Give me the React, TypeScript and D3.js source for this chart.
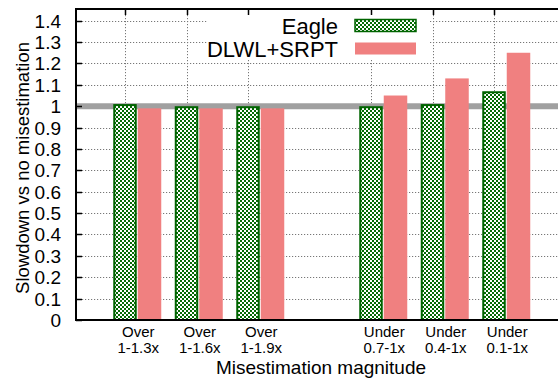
import React, { useEffect, useRef } from 'react';
import * as d3 from 'd3';

// chart data
const categories = [
  ['Over', '1-1.3x'],
  ['Over', '1-1.6x'],
  ['Over', '1-1.9x'],
  ['Under', '0.7-1x'],
  ['Under', '0.4-1x'],
  ['Under', '0.1-1x'],
];
const slots = [0, 1, 2, 4, 5, 6]; // empty slot between the two groups
const eagle = [1.01, 1.0, 1.0, 1.0, 1.01, 1.07];
const dlwl = [0.99, 0.99, 0.99, 1.05, 1.13, 1.25];
const yTicks = [0, 0.1, 0.2, 0.3, 0.4, 0.5, 0.6, 0.7, 0.8, 0.9, 1, 1.1, 1.2, 1.3, 1.4];

const App = () => {
  const ref = useRef<SVGSVGElement>(null);

  useEffect(() => {
    const svg = d3.select(ref.current);
    svg.selectAll('*').remove();

    const W = 558;
    const left = 76, top = 9, bottom = 320;
    const font = '"Liberation Sans", Arial, Helvetica, sans-serif';

    const y = d3.scaleLinear().domain([0, 1.45]).range([bottom, top + 1]);
    const x = d3.scaleLinear().domain([0, 6]).range([125, 494]);
    const barW = 23.5;
    const gap = 24.5;

    // checker pattern for Eagle bars
    const defs = svg.append('defs');
    const pat = defs.append('pattern')
      .attr('id', 'chk')
      .attr('width', 4).attr('height', 4)
      .attr('patternUnits', 'userSpaceOnUse');
    pat.append('rect').attr('width', 4).attr('height', 4).attr('fill', '#ffffff');
    pat.append('rect').attr('width', 2).attr('height', 2).attr('fill', '#046a04');
    pat.append('rect').attr('x', 2).attr('y', 2).attr('width', 2).attr('height', 2).attr('fill', '#046a04');

    // horizontal grid
    svg.append('g').selectAll('line')
      .data(yTicks.filter(d => d > 0))
      .enter().append('line')
      .attr('x1', left).attr('x2', W)
      .attr('y1', d => Math.round(y(d)) + 0.5).attr('y2', d => Math.round(y(d)) + 0.5)
      .attr('stroke', '#777').attr('stroke-width', 1)
      .attr('stroke-dasharray', '1.2,1.8');

    // vertical grid
    svg.append('g').selectAll('line')
      .data(slots)
      .enter().append('line')
      .attr('x1', d => Math.round(x(d)) + 0.5).attr('x2', d => Math.round(x(d)) + 0.5)
      .attr('y1', top).attr('y2', bottom)
      .attr('stroke', '#777').attr('stroke-width', 1)
      .attr('stroke-dasharray', '1.2,1.8');

    // reference line at 1
    svg.append('line')
      .attr('x1', left).attr('x2', W)
      .attr('y1', y(1)).attr('y2', y(1))
      .attr('stroke', '#a0a0a0').attr('stroke-width', 6);

    // legend background
    svg.append('rect')
      .attr('x', 208).attr('y', 11).attr('width', 222).attr('height', 48)
      .attr('fill', '#fff');

    // bars
    svg.append('g').selectAll('rect')
      .data(eagle)
      .enter().append('rect')
      .attr('x', (d, i) => x(slots[i]) - barW / 2 + 1)
      .attr('y', d => y(d) + 1)
      .attr('width', barW - 2)
      .attr('height', d => bottom - y(d) - 1)
      .attr('fill', 'url(#chk)')
      .attr('stroke', '#006400').attr('stroke-width', 2);

    svg.append('g').selectAll('rect')
      .data(dlwl)
      .enter().append('rect')
      .attr('x', (d, i) => x(slots[i]) + gap - barW / 2)
      .attr('y', d => y(d))
      .attr('width', barW)
      .attr('height', d => bottom - y(d))
      .attr('fill', '#f08080');

    // legend
    const lg = [
      { name: 'Eagle', yy: 25.5, fill: 'url(#chk)', stroke: '#006400' },
      { name: 'DLWL+SRPT', yy: 48.5, fill: '#f08080', stroke: 'none' },
    ];
    lg.forEach(l => {
      svg.append('text')
        .attr('x', 338).attr('y', l.yy + 8)
        .attr('text-anchor', 'end')
        .style('font-family', font).style('font-size', '22px')
        .text(l.name);
      svg.append('rect')
        .attr('x', 355).attr('y', l.yy - 6)
        .attr('width', 61).attr('height', 12)
        .attr('fill', l.fill)
        .attr('stroke', l.stroke).attr('stroke-width', l.stroke === 'none' ? 0 : 1.5);
    });

    // axes frame
    svg.append('line').attr('x1', left).attr('x2', W).attr('y1', top).attr('y2', top)
      .attr('stroke', '#000').attr('stroke-width', 2);
    svg.append('line').attr('x1', left).attr('x2', W).attr('y1', bottom).attr('y2', bottom)
      .attr('stroke', '#000').attr('stroke-width', 2);
    svg.append('line').attr('x1', left).attr('x2', left).attr('y1', top - 1).attr('y2', bottom + 1)
      .attr('stroke', '#000').attr('stroke-width', 2);

    // y ticks
    const yt = svg.append('g');
    yTicks.forEach(t => {
      yt.append('line')
        .attr('x1', left).attr('x2', left + 6)
        .attr('y1', Math.round(y(t)) + 0.5).attr('y2', Math.round(y(t)) + 0.5)
        .attr('stroke', '#000').attr('stroke-width', 1.5);
      yt.append('text')
        .attr('x', 61).attr('y', y(t) + 7)
        .attr('text-anchor', 'end')
        .style('font-family', font).style('font-size', '19px')
        .text(d3.format('~g')(t));
    });

    // top ticks at category positions
    slots.forEach(s => {
      svg.append('line')
        .attr('x1', Math.round(x(s)) + 0.5).attr('x2', Math.round(x(s)) + 0.5)
        .attr('y1', top).attr('y2', top + 6)
        .attr('stroke', '#000').attr('stroke-width', 1.5);
    });

    // x tick labels
    categories.forEach((c, i) => {
      const cx = x(slots[i]) + gap / 2 + 1;
      c.forEach((line, k) => {
        svg.append('text')
          .attr('x', cx).attr('y', 337 + k * 15.5)
          .attr('text-anchor', 'middle')
          .style('font-family', font).style('font-size', '15px')
          .text(line);
      });
    });

    // axis titles
    svg.append('text')
      .attr('x', 321).attr('y', 374)
      .attr('text-anchor', 'middle')
      .style('font-family', font).style('font-size', '19px')
      .text('Misestimation magnitude');

    svg.append('text')
      .attr('transform', 'translate(29,168) rotate(-90)')
      .attr('text-anchor', 'middle')
      .style('font-family', font).style('font-size', '18.5px')
      .text('Slowdown vs no misestimation');
  }, []);

  return (
    <svg ref={ref} width={558} height={380}
      style={{ position: 'absolute', left: 0, top: 0, background: '#fff' }} />
  );
};

export default App;
